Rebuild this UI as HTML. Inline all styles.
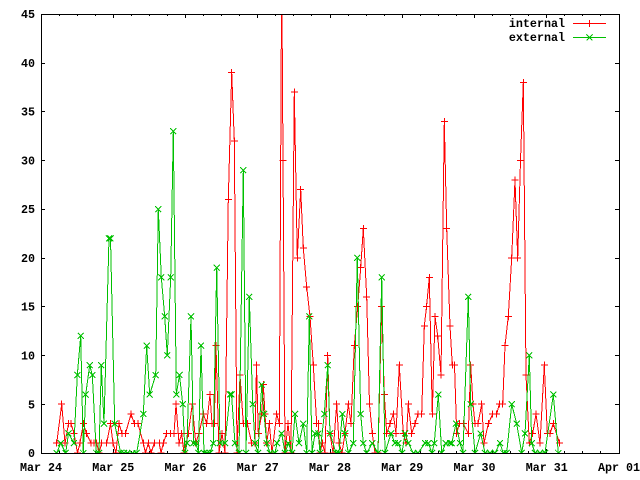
<!DOCTYPE html>
<html>
<head>
<meta charset="utf-8">
<style>
  html,body{margin:0;padding:0;background:#fff;}
  svg{display:block;}
  text{font-family:"Liberation Mono",monospace;font-weight:bold;font-size:11.7px;fill:#000;}
</style>
</head>
<body>
<svg width="640" height="480" viewBox="0 0 640 480" xmlns="http://www.w3.org/2000/svg">
  <defs>
    <clipPath id="plot"><rect x="41" y="14" width="578.5" height="439.5"/></clipPath>
    <marker id="mplus" markerUnits="userSpaceOnUse" markerWidth="10" markerHeight="10" refX="5" refY="5" viewBox="0 0 10 10" overflow="visible">
      <path d="M1.5 5 H8.5 M5 1.5 V8.5" stroke="#ff0000" stroke-width="1" fill="none" shape-rendering="crispEdges"/>
    </marker>
    <marker id="mx" markerUnits="userSpaceOnUse" markerWidth="10" markerHeight="10" refX="5" refY="5" viewBox="0 0 10 10" overflow="visible">
      <path d="M2 2 L8 8 M2 8 L8 2" stroke="#00c000" stroke-width="1" fill="none" shape-rendering="crispEdges"/>
    </marker>
  </defs>

  <rect x="0" y="0" width="640" height="480" fill="#fff"/>

  <!-- ticks -->
  <path fill="none" stroke="#000" stroke-width="1" shape-rendering="crispEdges" d="
    M59.5 453 V451 M77.5 453 V451 M95.5 453 V451 M113.5 453 V449 M131.5 453 V451 M149.5 453 V451 M167.5 453 V451 M185.5 453 V449
    M203.5 453 V451 M221.5 453 V451 M239.5 453 V451 M257.5 453 V449 M275.5 453 V451 M293.5 453 V451 M311.5 453 V451 M330.5 453 V449
    M348.5 453 V451 M366.5 453 V451 M384.5 453 V451 M402.5 453 V449 M420.5 453 V451 M438.5 453 V451 M456.5 453 V451 M474.5 453 V449
    M492.5 453 V451 M510.5 453 V451 M528.5 453 V451 M546.5 453 V449 M564.5 453 V451 M582.5 453 V451 M600.5 453 V451
    M59.5 14 V16 M77.5 14 V16 M95.5 14 V16 M113.5 14 V18 M131.5 14 V16 M149.5 14 V16 M167.5 14 V16 M185.5 14 V18
    M203.5 14 V16 M221.5 14 V16 M239.5 14 V16 M257.5 14 V18 M275.5 14 V16 M293.5 14 V16 M311.5 14 V16 M330.5 14 V18
    M348.5 14 V16 M366.5 14 V16 M384.5 14 V16 M402.5 14 V18 M420.5 14 V16 M438.5 14 V16 M456.5 14 V16 M474.5 14 V18
    M492.5 14 V16 M510.5 14 V16 M528.5 14 V16 M546.5 14 V18 M564.5 14 V16 M582.5 14 V16 M600.5 14 V16
    M41 404.5 H45 M41 355.5 H45 M41 306.5 H45 M41 258.5 H45 M41 209.5 H45 M41 160.5 H45 M41 111.5 H45 M41 63.5 H45
    M619 404.5 H615 M619 355.5 H615 M619 306.5 H615 M619 258.5 H615 M619 209.5 H615 M619 160.5 H615 M619 111.5 H615 M619 63.5 H615
  "/>

  <!-- y labels -->
  <g text-anchor="end">
    <text x="35" y="457">0</text>
    <text x="35" y="408.5">5</text>
    <text x="35" y="359.5">10</text>
    <text x="35" y="310.5">15</text>
    <text x="35" y="262">20</text>
    <text x="35" y="213">25</text>
    <text x="35" y="164.5">30</text>
    <text x="35" y="115.5">35</text>
    <text x="35" y="67">40</text>
    <text x="35" y="18">45</text>
  </g>
  <!-- x labels -->
  <g text-anchor="middle">
    <text x="41" y="471">Mar 24</text>
    <text x="113.25" y="471">Mar 25</text>
    <text x="185.5" y="471">Mar 26</text>
    <text x="257.75" y="471">Mar 27</text>
    <text x="330" y="471">Mar 28</text>
    <text x="402.25" y="471">Mar 29</text>
    <text x="474.5" y="471">Mar 30</text>
    <text x="546.75" y="471">Mar 31</text>
    <text x="619" y="471">Apr 01</text>
  </g>

  <!-- series -->
  <g clip-path="url(#plot)">
    <polyline fill="none" stroke="#ff0000" stroke-width="1" stroke-linejoin="miter" shape-rendering="crispEdges"
      marker-start="url(#mplus)" marker-mid="url(#mplus)" marker-end="url(#mplus)"
      points="56.7,443.2 61.7,404.2 65,443.2 68.5,423.7 71,423.7 74,433.5 77.5,453 80,443.2 83.3,423.7 86.5,433.5 91,443.2 94,443.2 96.7,443.2 99,453 101.7,443.2 106.7,443.2 110.5,423.7 113,443.2 116,453 119,423.7 122,433.5 125.5,433.5 131,414 134.3,423.7 138,423.7 143.3,443.2 145.5,453 148.3,443.2 151,453 154.3,443.2 159.3,443.2 161,453 163.3,443.2 166.7,433.5 170.7,433.5 174,433.5 176,404.2 179,443.2 181.7,433.5 184,453 188.3,433.5 192.3,404.2 195.7,443.2 199,433.5 203.3,414 206.7,423.7 210,394.5 212,423.7 214.3,423.7 216,345.7 219,453 222,433.5 225,453 228.3,199.3 231.7,72.5 234.3,140.8 237,453 240,375 243.3,423.7 247.3,423.7 251.7,443.2 255,443.2 256.5,365.2 258.3,433.5 261.7,414 263.3,384.7 265,414 266.7,443.2 269.3,423.7 272,453 276.7,414 279.3,423.7 281.7,-35 283,160.3 285,453 288,423.7 291,453 294.3,92 297.3,257.9 300.7,189.6 303.3,248.1 306.7,287.1 310,316.4 313.3,365.2 316.7,423.7 318.3,423.7 320,453 322.3,443.2 325,453 327.7,355.4 330,433.5 333,453 336.7,404.2 339,443.2 342,453 345,433.5 348.3,404.2 351,423.7 354.3,345.7 357.7,306.7 360.7,267.6 363.3,228.6 366.7,296.9 369.5,404.2 372.3,433.5 375,453 378,453 381.7,306.7 384.3,394.5 386.7,433.5 390,423.7 393.3,414 396,433.5 399.3,365.2 403.3,433.5 406,443.2 408.3,404.2 411.7,433.5 415,423.7 418,414 421.7,414 424.3,326.2 426.5,306.7 429.3,277.4 432.3,414 435,316.4 437.7,335.9 441,375 444.3,121.3 446.7,228.6 450,326.2 452.3,365.2 454.5,365.2 456.7,433.5 459.3,423.7 463.3,423.7 468.3,433.5 470.7,365.2 473,404.2 475,423.7 478,423.7 481.7,404.2 484,443.2 488.3,423.7 492.7,414 496.7,414 499.3,404.2 502.7,404.2 505,345.7 508.3,316.4 511.7,257.9 515,179.8 517.7,257.9 520.5,160.3 523.3,82.3 526,375 529.3,443.2 532.7,433.5 536,414 540,443.2 544.3,365.2 547.3,433.5 550,433.5 553.3,423.7 559.5,443.2"/>
    <polyline fill="none" stroke="#00c000" stroke-width="1" stroke-linejoin="miter" shape-rendering="crispEdges"
      marker-start="url(#mx)" marker-mid="url(#mx)" marker-end="url(#mx)"
      points="56.7,453 60.7,443.2 65.7,453 68.5,433.5 74,443.2 77.3,375 80.7,335.9 83.3,453 85.7,394.5 89.7,365.2 92.3,375 96.3,453 99,453 101.3,365.2 104,423.7 109,238.4 110.5,238.4 114.7,423.7 120.7,453 124,453 127.3,453 132.3,453 136.7,453 143.3,414 146.7,345.7 149.7,394.5 155.7,375 158.3,209.1 161.3,277.4 164.7,316.4 167.3,355.4 170.7,277.4 173.3,131.1 176.3,394.5 179.5,375 182.7,404.2 185,453 187,443.2 191,316.4 193.5,443.2 196,443.2 198.5,453 201,345.7 204,453 207,453 210,453 213.3,443.2 216.7,267.6 220,443.2 225,443.2 230,394.5 231.5,394.5 235,443.2 239,453 243.3,170.1 246,453 249.3,296.9 252.7,404.2 255,443.2 258,453 261.7,384.7 264,414 266.7,443.2 270,453 275,453 277,443.2 281.7,433.5 285,453 288.3,443.2 292,453 295,414 299,443.2 303.3,423.7 306.7,453 309.3,316.4 312,453 315,433.5 318.3,433.5 320,453 324.3,414 327.7,365.2 330,433.5 336,453 339,453 342.3,414 345,433.5 348.3,453 353.3,443.2 357.3,257.9 360.7,414 363.3,443.2 366.7,453 372.3,443.2 378,453 381.7,277.4 385,453 391,433.5 395,443.2 398.3,443.2 402,453 405,433.5 408.3,443.2 413.3,453 418,453 425,443.2 428.3,443.2 432,453 434.3,443.2 438.3,394.5 441.7,453 445.7,443.2 450,443.2 451.7,443.2 456,423.7 460,443.2 463,453 468.3,296.9 470.7,404.2 475,453 480.7,433.5 485,453 490,453 495,453 500,443.2 503.3,453 506.7,453 511.7,404.2 516.7,423.7 521.7,453 525,433.5 529.3,355.4 531.7,443.2 535,453 540,453 545,453 553.3,394.5 558.3,453"/>
  </g>

  <!-- frame -->
  <rect x="41.5" y="14.5" width="578" height="439" fill="none" stroke="#000" stroke-width="1" shape-rendering="crispEdges"/>

  <!-- legend -->
  <g text-anchor="end">
    <text x="565" y="27">internal</text>
    <text x="565" y="41">external</text>
  </g>
  <path d="M573 23.5 H606 M589.5 20 V27" stroke="#ff0000" stroke-width="1" fill="none" shape-rendering="crispEdges"/>
  <path d="M573 37.5 H606 M586.5 34.5 L592.5 40.5 M586.5 40.5 L592.5 34.5" stroke="#00c000" stroke-width="1" fill="none" shape-rendering="crispEdges"/>
</svg>
</body>
</html>
